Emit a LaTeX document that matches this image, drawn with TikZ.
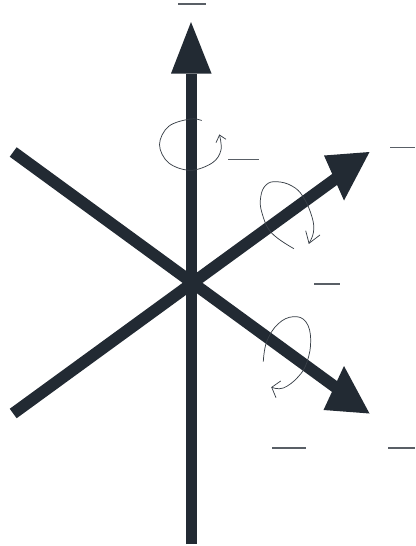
\documentclass[tikz,border=0pt]{standalone}
\usepackage{xcolor}
\usepackage{tikz}

\definecolor{axisdark}{HTML}{222A33}
\tikzset{
  axisbar/.style={draw=axisdark, line width=8pt},
  slantbar/.style={draw=axisdark, line width=8.8pt},
  axishead/.style={fill=axisdark, draw=none},
  spin/.style={draw=axisdark!90, line width=0.55pt},
  tick/.style={draw=axisdark!75, line width=0.8pt}
}

\begin{document}
\begin{tikzpicture}[x=0.75pt,y=-0.75pt]
  \useasboundingbox (0,0) rectangle (415,546);

  % Axis end points
  \coordinate (up) at (191.3,74);
  \coordinate (down) at (191.3,544);
  \coordinate (right up) at (338,177);
  \coordinate (left down) at (13.2,413.5);
  \coordinate (right down) at (338,389);
  \coordinate (left up) at (13.2,152);

  % Draw the axes
  \draw[axisbar] (down) -- (up);
  \draw[slantbar] (left down) -- (right up);
  \draw[slantbar] (left up) -- (right down);

  % Draw the arrow heads
  \fill[axishead] (191,22) -- (211.5,73.5) -- (171,73.5) -- cycle;
  \fill[axishead] (369.5,152) -- (344,200.5) -- (324,155.5) -- cycle;
  \fill[axishead] (369.5,413.5) -- (323.5,410) -- (344,366) -- cycle;

  % Rotation around the vertical axis
  \draw[spin] plot[smooth, tension=0.6] coordinates {(201.7,120.5) (190,119) (168.6,126.4) (159.5,144.6) (168.6,162.8) (190.5,170.3) (212.4,162.8) (221,150) (219.5,135)};
  \draw[spin] (216,142.7) -- (219.5,135) -- (226,139.3);

  % Rotation around the upper right axis
  \draw[spin] plot[smooth, tension=0.7] coordinates {(294,248.7) (271.7,233) (262,213) (260.7,197) (266,185) (276.7,181.7) (292,186) (303.3,197) (312,217) (313.5,232) (309,243.3)};
  \draw[spin] (305.7,230.7) -- (309,243.3) -- (320,235);

  % Rotation around the lower right axis
  \draw[spin] plot[smooth, tension=0.7] coordinates {(263.3,361.7) (266.7,341.7) (278,324) (293.3,316.7) (306,322) (310.7,340) (307,362) (298,377) (283.3,388) (271.7,387.3)};
  \draw[spin] (280.7,381) -- (271.7,387.3) -- (276,397.7);

  % Short label lines
  \draw[tick] (178,4) -- (206,4);
  \draw[tick] (228,159.5) -- (259,159.5);
  \draw[tick] (390,147.5) -- (415,147.5);
  \draw[tick] (314,284) -- (340,284);
  \draw[tick] (272,448) -- (305.5,448);
  \draw[tick] (388,448) -- (415,448);

\end{tikzpicture}
\end{document}
